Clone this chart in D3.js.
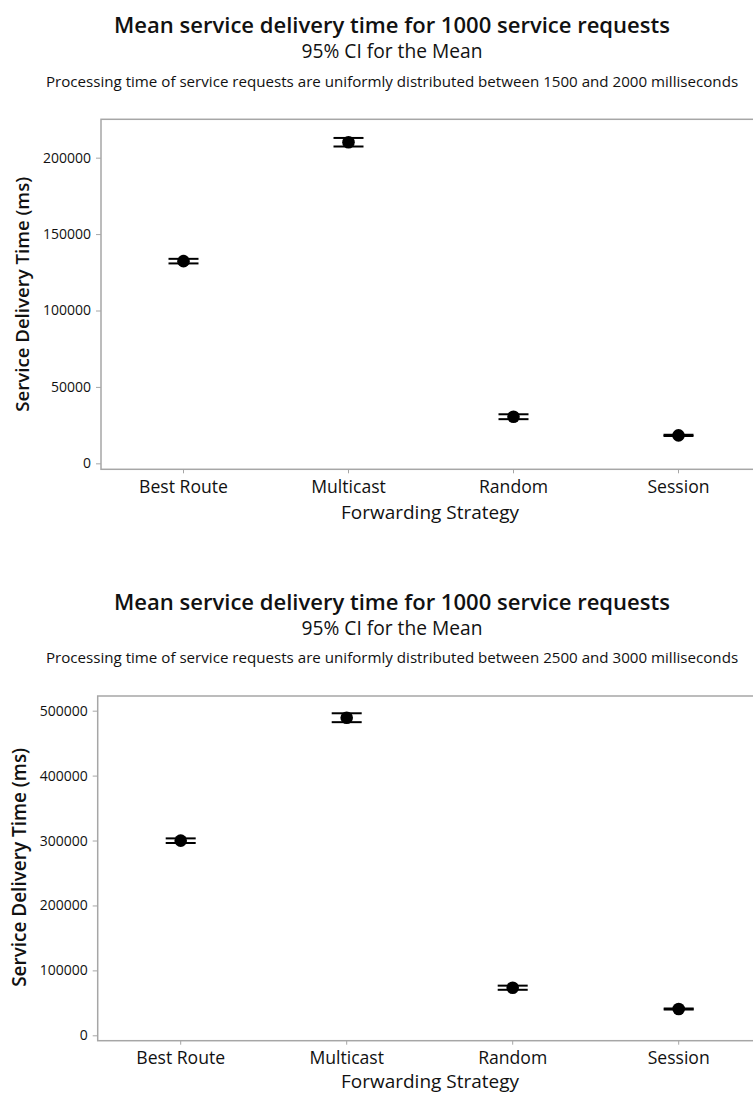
<!DOCTYPE html>
<html>
<head>
<meta charset="utf-8">
<script src="https://cdn.jsdelivr.net/npm/d3@7/dist/d3.min.js"></script>
<style>
  html, body { margin: 0; padding: 0; background: #fff; }
  svg { display: block; }
  text { font-family: "Open Sans", "Noto Sans", sans-serif; fill: #111; }
</style>
</head>
<body>
<svg id="chart" width="753" height="1095"></svg>
<script>
// Forwarding strategies on the x axis
const strategies = ["Best Route", "Multicast", "Random", "Session"];

// Processing time uniform in [1500, 2000] ms: mean and 95% CI bounds
const mean1500  = [132300, 210100, 30500, 18300];
const lower1500 = [130800, 207300, 28900, 17900];
const upper1500 = [133800, 212900, 32100, 18700];
const ticks1500 = [0, 50000, 100000, 150000, 200000];

// Processing time uniform in [2500, 3000] ms: mean and 95% CI bounds
const mean2500  = [299800, 489200, 73300, 40500];
const lower2500 = [296200, 482300, 70100, 39700];
const upper2500 = [303300, 496000, 76500, 41300];
const ticks2500 = [0, 100000, 200000, 300000, 400000, 500000];

const titleText = "Mean service delivery time for 1000 service requests";
const ciText = "95% CI for the Mean";
const note1500 = "Processing time of service requests are uniformly distributed between 1500 and 2000 milliseconds";
const note2500 = "Processing time of service requests are uniformly distributed between 2500 and 3000 milliseconds";
const yLabel = "Service Delivery Time (ms)";
const xLabel = "Forwarding Strategy";

const svg = d3.select("#chart");

// scale a text's font size so that the rendered string spans the given width
function fitWidth(sel, width) {
  const node = sel.node();
  const size = parseFloat(sel.style("font-size"));
  const w = node.getComputedTextLength();
  if (w > 0) sel.style("font-size", (size * width / w).toFixed(2) + "px");
  return sel;
}

function panel(opt) {
  const g = svg.append("g");
  const cx = 392;
  const ft = opt.frameTop;

  fitWidth(g.append("text").attr("x", cx).attr("y", ft - 86.3)
    .attr("text-anchor", "middle")
    .style("font-size", "22px").style("font-weight", 600).text(titleText), 556);
  fitWidth(g.append("text").attr("x", cx).attr("y", ft - 61)
    .attr("text-anchor", "middle")
    .style("font-size", "18px").text(ciText), 181);
  fitWidth(g.append("text").attr("x", cx).attr("y", ft - 32.6)
    .attr("text-anchor", "middle")
    .style("font-size", "14px").text(opt.note), 693);

  const x = d3.scaleBand().domain(strategies)
    .range([opt.left, opt.left + 4 * opt.step]).paddingInner(0).paddingOuter(0);
  const y = d3.scaleLinear().domain(opt.domain).range([opt.bottom, ft]);

  // frame (right edge lies outside the view)
  g.append("rect")
    .attr("x", opt.left).attr("y", ft)
    .attr("width", 4 * opt.step).attr("height", opt.bottom - ft)
    .attr("fill", "none").attr("stroke", "#a6a6a6").attr("stroke-width", 1.5);

  // y axis
  const ya = g.append("g").attr("transform", `translate(${opt.left},0)`)
    .call(d3.axisLeft(y).tickValues(opt.ticks).tickSize(5).tickPadding(5).tickFormat(d3.format("d")));
  ya.select(".domain").remove();
  ya.selectAll(".tick line").attr("stroke", "#a6a6a6");
  ya.selectAll(".tick text").style("font-size", "14px").style("font-family", "'Open Sans', sans-serif").attr("fill", "#1c1c2c");

  // x axis
  const xa = g.append("g").attr("transform", `translate(0,${opt.bottom})`)
    .call(d3.axisBottom(x).tickSize(4).tickPadding(4));
  xa.select(".domain").remove();
  xa.selectAll(".tick line").attr("stroke", "#a6a6a6");
  xa.selectAll(".tick text").attr("dy", null).attr("y", 23.4)
    .style("font-size", "17.6px").style("font-family", "'Open Sans', sans-serif").attr("fill", "#111");

  fitWidth(g.append("text")
    .attr("transform", `translate(${opt.yLabelX},${(ft + opt.bottom) / 2 + opt.yLabelShift}) rotate(-90)`)
    .attr("text-anchor", "middle").attr("dominant-baseline", "central")
    .style("font-size", "18px").style("font-weight", 600).text(yLabel), opt.yLabelW);
  fitWidth(g.append("text").attr("x", 430).attr("y", opt.bottom + opt.xLabelY)
    .attr("text-anchor", "middle")
    .style("font-size", "19px").text(xLabel), 178);

  const rows = strategies.map((s, i) => ({ s, m: opt.mean[i], lo: opt.lower[i], hi: opt.upper[i] }));
  const half = 15;
  const mk = g.append("g").selectAll("g").data(rows).join("g")
    .attr("transform", d => `translate(${x(d.s) + x.bandwidth() / 2},0)`);
  mk.append("line").attr("x1", 0).attr("x2", 0)
    .attr("y1", d => y(d.lo)).attr("y2", d => y(d.hi))
    .attr("stroke", "#000").attr("stroke-width", 2);
  mk.append("line").attr("x1", -half).attr("x2", half)
    .attr("y1", d => y(d.hi)).attr("y2", d => y(d.hi))
    .attr("stroke", "#000").attr("stroke-width", 2);
  mk.append("line").attr("x1", -half).attr("x2", half)
    .attr("y1", d => y(d.lo)).attr("y2", d => y(d.lo))
    .attr("stroke", "#000").attr("stroke-width", 2);
  mk.append("circle").attr("cx", 0).attr("cy", d => y(d.m)).attr("r", 6.3).attr("fill", "#000");
}

panel({
  note: note1500, left: 101, step: 165, frameTop: 119.3, bottom: 469.3,
  domain: [-3900, 225100], ticks: ticks1500, yLabelX: 21.5, yLabelShift: 0, yLabelW: 235,
  xLabelY: 50,
  mean: mean1500, lower: lower1500, upper: upper1500
});

panel({
  note: note2500, left: 97.7, step: 166, frameTop: 696, bottom: 1040.7,
  domain: [-8300, 522600], ticks: ticks2500, yLabelX: 18.5, yLabelShift: -1, yLabelW: 239,
  xLabelY: 47,
  mean: mean2500, lower: lower2500, upper: upper2500
});
</script>
</body>
</html>
